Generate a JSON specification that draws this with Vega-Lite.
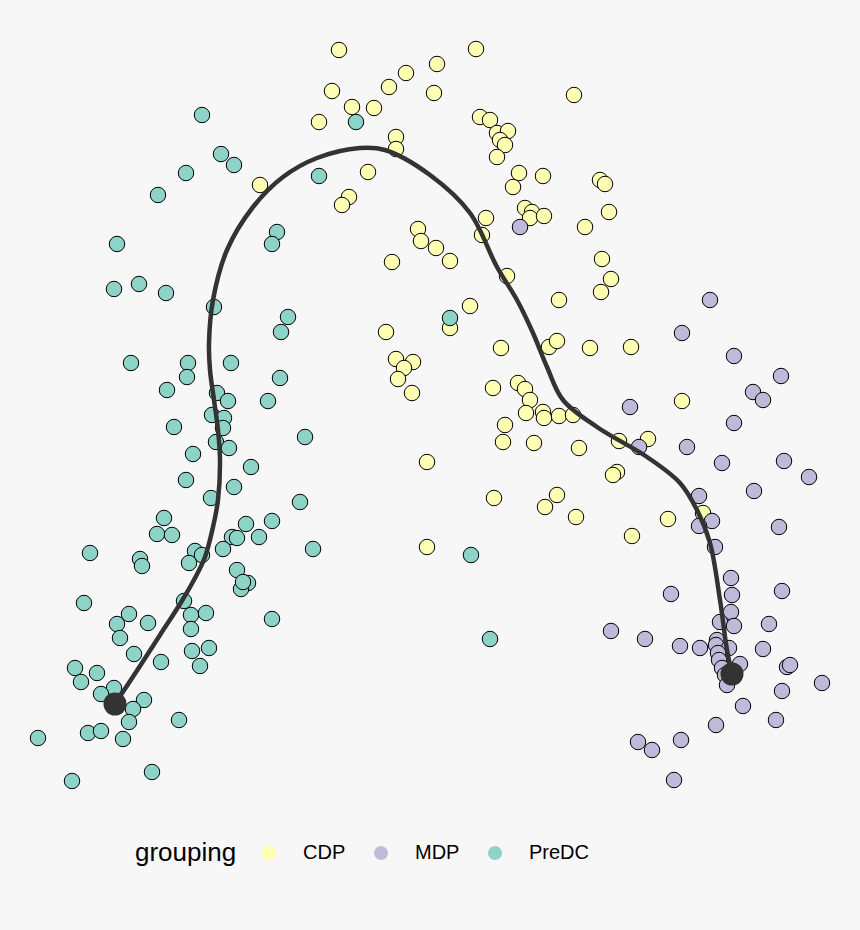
{
  "$schema": "https://vega.github.io/schema/vega-lite/v6.json",
  "width": 860,
  "height": 930,
  "autosize": {"type": "none"},
  "padding": 0,
  "background": "#f7f7f7",
  "config": {"view": {"stroke": null}, "font": "Liberation Sans"},
  "datasets": {
    "cells": [
      {"grouping":"CDP","x":339,"y":50},{"grouping":"CDP","x":476,"y":49},{"grouping":"CDP","x":437,"y":64},{"grouping":"CDP","x":406,"y":73},{"grouping":"CDP","x":389,"y":87},{"grouping":"CDP","x":332,"y":91},{"grouping":"CDP","x":434,"y":93},{"grouping":"CDP","x":574,"y":95},{"grouping":"CDP","x":352,"y":107},{"grouping":"CDP","x":374,"y":108},{"grouping":"CDP","x":319,"y":122},{"grouping":"CDP","x":480,"y":117},{"grouping":"CDP","x":490,"y":120},{"grouping":"CDP","x":497,"y":133},{"grouping":"CDP","x":508,"y":131},{"grouping":"CDP","x":500,"y":140},{"grouping":"CDP","x":505,"y":145},{"grouping":"CDP","x":396,"y":137},{"grouping":"CDP","x":396,"y":149},{"grouping":"CDP","x":497,"y":157},{"grouping":"CDP","x":368,"y":172},{"grouping":"CDP","x":519,"y":173},{"grouping":"CDP","x":543,"y":176},{"grouping":"CDP","x":600,"y":180},{"grouping":"CDP","x":605,"y":184},{"grouping":"CDP","x":513,"y":187},{"grouping":"CDP","x":260,"y":185},{"grouping":"CDP","x":349,"y":197},{"grouping":"CDP","x":342,"y":205},{"grouping":"CDP","x":525,"y":208},{"grouping":"CDP","x":532,"y":212},{"grouping":"CDP","x":530,"y":218},{"grouping":"CDP","x":544,"y":216},{"grouping":"CDP","x":486,"y":218},{"grouping":"CDP","x":609,"y":212},{"grouping":"CDP","x":418,"y":229},{"grouping":"CDP","x":421,"y":241},{"grouping":"CDP","x":585,"y":227},{"grouping":"CDP","x":482,"y":235},{"grouping":"CDP","x":436,"y":248},{"grouping":"CDP","x":450,"y":261},{"grouping":"CDP","x":392,"y":262},{"grouping":"CDP","x":507,"y":276},{"grouping":"CDP","x":602,"y":259},{"grouping":"CDP","x":611,"y":279},{"grouping":"CDP","x":601,"y":292},{"grouping":"CDP","x":559,"y":300},{"grouping":"CDP","x":470,"y":306},{"grouping":"CDP","x":450,"y":328},{"grouping":"CDP","x":386,"y":332},{"grouping":"CDP","x":501,"y":348},{"grouping":"CDP","x":549,"y":347},{"grouping":"CDP","x":557,"y":341},{"grouping":"CDP","x":590,"y":348},{"grouping":"CDP","x":631,"y":347},{"grouping":"CDP","x":396,"y":359},{"grouping":"CDP","x":413,"y":362},{"grouping":"CDP","x":404,"y":368},{"grouping":"CDP","x":398,"y":379},{"grouping":"CDP","x":412,"y":393},{"grouping":"CDP","x":493,"y":388},{"grouping":"CDP","x":518,"y":383},{"grouping":"CDP","x":525,"y":389},{"grouping":"CDP","x":530,"y":400},{"grouping":"CDP","x":682,"y":401},{"grouping":"CDP","x":526,"y":413},{"grouping":"CDP","x":543,"y":412},{"grouping":"CDP","x":544,"y":418},{"grouping":"CDP","x":559,"y":416},{"grouping":"CDP","x":573,"y":415},{"grouping":"CDP","x":505,"y":425},{"grouping":"CDP","x":503,"y":442},{"grouping":"CDP","x":534,"y":443},{"grouping":"CDP","x":579,"y":448},{"grouping":"CDP","x":619,"y":441},{"grouping":"CDP","x":648,"y":439},{"grouping":"CDP","x":617,"y":472},{"grouping":"CDP","x":613,"y":475},{"grouping":"CDP","x":427,"y":462},{"grouping":"CDP","x":494,"y":498},{"grouping":"CDP","x":557,"y":495},{"grouping":"CDP","x":545,"y":507},{"grouping":"CDP","x":576,"y":517},{"grouping":"CDP","x":668,"y":519},{"grouping":"CDP","x":632,"y":536},{"grouping":"CDP","x":703,"y":513},{"grouping":"CDP","x":427,"y":547},
      {"grouping":"MDP","x":520,"y":227},{"grouping":"MDP","x":710,"y":300},{"grouping":"MDP","x":682,"y":333},{"grouping":"MDP","x":734,"y":356},{"grouping":"MDP","x":781,"y":376},{"grouping":"MDP","x":753,"y":392},{"grouping":"MDP","x":763,"y":400},{"grouping":"MDP","x":630,"y":407},{"grouping":"MDP","x":734,"y":423},{"grouping":"MDP","x":687,"y":447},{"grouping":"MDP","x":639,"y":447},{"grouping":"MDP","x":722,"y":463},{"grouping":"MDP","x":784,"y":461},{"grouping":"MDP","x":809,"y":477},{"grouping":"MDP","x":754,"y":491},{"grouping":"MDP","x":699,"y":496},{"grouping":"MDP","x":712,"y":521},{"grouping":"MDP","x":699,"y":526},{"grouping":"MDP","x":779,"y":527},{"grouping":"MDP","x":715,"y":547},{"grouping":"MDP","x":731,"y":578},{"grouping":"MDP","x":732,"y":595},{"grouping":"MDP","x":671,"y":594},{"grouping":"MDP","x":782,"y":591},{"grouping":"MDP","x":731,"y":612},{"grouping":"MDP","x":720,"y":622},{"grouping":"MDP","x":734,"y":626},{"grouping":"MDP","x":769,"y":624},{"grouping":"MDP","x":611,"y":631},{"grouping":"MDP","x":645,"y":639},{"grouping":"MDP","x":680,"y":646},{"grouping":"MDP","x":700,"y":648},{"grouping":"MDP","x":717,"y":640},{"grouping":"MDP","x":716,"y":645},{"grouping":"MDP","x":729,"y":648},{"grouping":"MDP","x":718,"y":653},{"grouping":"MDP","x":719,"y":660},{"grouping":"MDP","x":722,"y":668},{"grouping":"MDP","x":725,"y":675},{"grouping":"MDP","x":740,"y":664},{"grouping":"MDP","x":763,"y":649},{"grouping":"MDP","x":787,"y":667},{"grouping":"MDP","x":790,"y":665},{"grouping":"MDP","x":822,"y":683},{"grouping":"MDP","x":727,"y":685},{"grouping":"MDP","x":782,"y":691},{"grouping":"MDP","x":743,"y":706},{"grouping":"MDP","x":776,"y":720},{"grouping":"MDP","x":716,"y":725},{"grouping":"MDP","x":638,"y":742},{"grouping":"MDP","x":652,"y":750},{"grouping":"MDP","x":681,"y":740},{"grouping":"MDP","x":674,"y":780},
      {"grouping":"PreDC","x":202,"y":115},{"grouping":"PreDC","x":356,"y":122},{"grouping":"PreDC","x":221,"y":154},{"grouping":"PreDC","x":234,"y":165},{"grouping":"PreDC","x":186,"y":173},{"grouping":"PreDC","x":158,"y":195},{"grouping":"PreDC","x":319,"y":176},{"grouping":"PreDC","x":277,"y":232},{"grouping":"PreDC","x":272,"y":244},{"grouping":"PreDC","x":117,"y":244},{"grouping":"PreDC","x":114,"y":289},{"grouping":"PreDC","x":139,"y":284},{"grouping":"PreDC","x":166,"y":293},{"grouping":"PreDC","x":214,"y":307},{"grouping":"PreDC","x":288,"y":317},{"grouping":"PreDC","x":281,"y":332},{"grouping":"PreDC","x":131,"y":363},{"grouping":"PreDC","x":188,"y":363},{"grouping":"PreDC","x":231,"y":363},{"grouping":"PreDC","x":187,"y":377},{"grouping":"PreDC","x":280,"y":378},{"grouping":"PreDC","x":167,"y":390},{"grouping":"PreDC","x":217,"y":393},{"grouping":"PreDC","x":228,"y":401},{"grouping":"PreDC","x":268,"y":401},{"grouping":"PreDC","x":212,"y":415},{"grouping":"PreDC","x":224,"y":418},{"grouping":"PreDC","x":223,"y":428},{"grouping":"PreDC","x":174,"y":427},{"grouping":"PreDC","x":216,"y":442},{"grouping":"PreDC","x":229,"y":448},{"grouping":"PreDC","x":305,"y":437},{"grouping":"PreDC","x":193,"y":454},{"grouping":"PreDC","x":251,"y":467},{"grouping":"PreDC","x":186,"y":480},{"grouping":"PreDC","x":234,"y":487},{"grouping":"PreDC","x":211,"y":498},{"grouping":"PreDC","x":300,"y":502},{"grouping":"PreDC","x":164,"y":518},{"grouping":"PreDC","x":157,"y":534},{"grouping":"PreDC","x":172,"y":535},{"grouping":"PreDC","x":246,"y":524},{"grouping":"PreDC","x":272,"y":521},{"grouping":"PreDC","x":232,"y":537},{"grouping":"PreDC","x":237,"y":538},{"grouping":"PreDC","x":259,"y":537},{"grouping":"PreDC","x":195,"y":551},{"grouping":"PreDC","x":202,"y":555},{"grouping":"PreDC","x":223,"y":549},{"grouping":"PreDC","x":189,"y":563},{"grouping":"PreDC","x":313,"y":549},{"grouping":"PreDC","x":90,"y":553},{"grouping":"PreDC","x":140,"y":559},{"grouping":"PreDC","x":142,"y":566},{"grouping":"PreDC","x":237,"y":570},{"grouping":"PreDC","x":248,"y":583},{"grouping":"PreDC","x":241,"y":589},{"grouping":"PreDC","x":243,"y":582},{"grouping":"PreDC","x":84,"y":603},{"grouping":"PreDC","x":184,"y":601},{"grouping":"PreDC","x":129,"y":614},{"grouping":"PreDC","x":191,"y":615},{"grouping":"PreDC","x":206,"y":613},{"grouping":"PreDC","x":117,"y":624},{"grouping":"PreDC","x":148,"y":623},{"grouping":"PreDC","x":120,"y":638},{"grouping":"PreDC","x":191,"y":629},{"grouping":"PreDC","x":272,"y":619},{"grouping":"PreDC","x":134,"y":654},{"grouping":"PreDC","x":192,"y":651},{"grouping":"PreDC","x":209,"y":648},{"grouping":"PreDC","x":161,"y":662},{"grouping":"PreDC","x":200,"y":666},{"grouping":"PreDC","x":75,"y":668},{"grouping":"PreDC","x":97,"y":673},{"grouping":"PreDC","x":81,"y":682},{"grouping":"PreDC","x":114,"y":688},{"grouping":"PreDC","x":101,"y":694},{"grouping":"PreDC","x":144,"y":700},{"grouping":"PreDC","x":133,"y":709},{"grouping":"PreDC","x":129,"y":722},{"grouping":"PreDC","x":179,"y":720},{"grouping":"PreDC","x":88,"y":733},{"grouping":"PreDC","x":101,"y":731},{"grouping":"PreDC","x":123,"y":739},{"grouping":"PreDC","x":38,"y":738},{"grouping":"PreDC","x":152,"y":772},{"grouping":"PreDC","x":72,"y":781},{"grouping":"PreDC","x":450,"y":318},{"grouping":"PreDC","x":471,"y":555},{"grouping":"PreDC","x":490,"y":639}
    ],
    "curve": [
      {"i":1,"x":115,"y":704},{"i":2,"x":140,"y":666},{"i":3,"x":160,"y":635},{"i":4,"x":180,"y":604},{"i":5,"x":195,"y":578},{"i":6,"x":205,"y":557},{"i":7,"x":213,"y":527},{"i":8,"x":218,"y":500},{"i":9,"x":220,"y":460},{"i":10,"x":218,"y":430},{"i":11,"x":214,"y":400},{"i":12,"x":210,"y":370},{"i":13,"x":209,"y":343},{"i":14,"x":213,"y":300},{"i":15,"x":227,"y":250},{"i":16,"x":253,"y":207},{"i":17,"x":283,"y":177},{"i":18,"x":317,"y":158},{"i":19,"x":360,"y":148},{"i":20,"x":385,"y":150},{"i":21,"x":430,"y":175},{"i":22,"x":470,"y":213},{"i":23,"x":497,"y":267},{"i":24,"x":517,"y":300},{"i":25,"x":533,"y":333},{"i":26,"x":547,"y":367},{"i":27,"x":563,"y":400},{"i":28,"x":597,"y":427},{"i":29,"x":647,"y":457},{"i":30,"x":680,"y":483},{"i":31,"x":697,"y":510},{"i":32,"x":710,"y":543},{"i":33,"x":720,"y":600},{"i":34,"x":727,"y":650},{"i":35,"x":732,"y":674}
    ],
    "ends": [
      {"x":115,"y":704},{"x":732,"y":674}
    ]
  },
  "layer": [
    {
      "data": {"name": "cells"},
      "mark": {"type": "point", "filled": true, "size": 240, "stroke": "black", "strokeWidth": 1, "opacity": 1},
      "encoding": {
        "x": {"field": "x", "type": "quantitative", "scale": {"domain": [0, 860], "nice": false, "zero": false}, "axis": null},
        "y": {"field": "y", "type": "quantitative", "scale": {"domain": [0, 930], "nice": false, "zero": false, "reverse": true}, "axis": null},
        "fill": {
          "field": "grouping", "type": "nominal",
          "scale": {"domain": ["CDP", "MDP", "PreDC"], "range": ["#ffffb3", "#bebada", "#8dd3c7"]},
          "legend": {
            "orient": "none", "legendX": 135, "legendY": 843, "direction": "horizontal",
            "title": "grouping", "titleOrient": "left", "titleFontSize": 26, "titleFontWeight": "normal",
            "titleColor": "black", "titleFont": "Liberation Sans", "titlePadding": 22,
            "labelFontSize": 20, "labelColor": "black", "labelFont": "Liberation Sans",
            "symbolType": "circle", "symbolSize": 196, "symbolStrokeWidth": 0, "symbolOpacity": 1,
            "labelOffset": 24, "columnPadding": 25
          }
        }
      }
    },
    {
      "data": {"name": "curve"},
      "mark": {"type": "line", "color": "#333333", "strokeWidth": 4.5, "interpolate": "catmull-rom"},
      "encoding": {
        "x": {"field": "x", "type": "quantitative"},
        "y": {"field": "y", "type": "quantitative"},
        "order": {"field": "i", "type": "quantitative"}
      }
    },
    {
      "data": {"name": "ends"},
      "mark": {"type": "point", "filled": true, "size": 530, "color": "#333333", "opacity": 1},
      "encoding": {
        "x": {"field": "x", "type": "quantitative"},
        "y": {"field": "y", "type": "quantitative"}
      }
    }
  ]
}
